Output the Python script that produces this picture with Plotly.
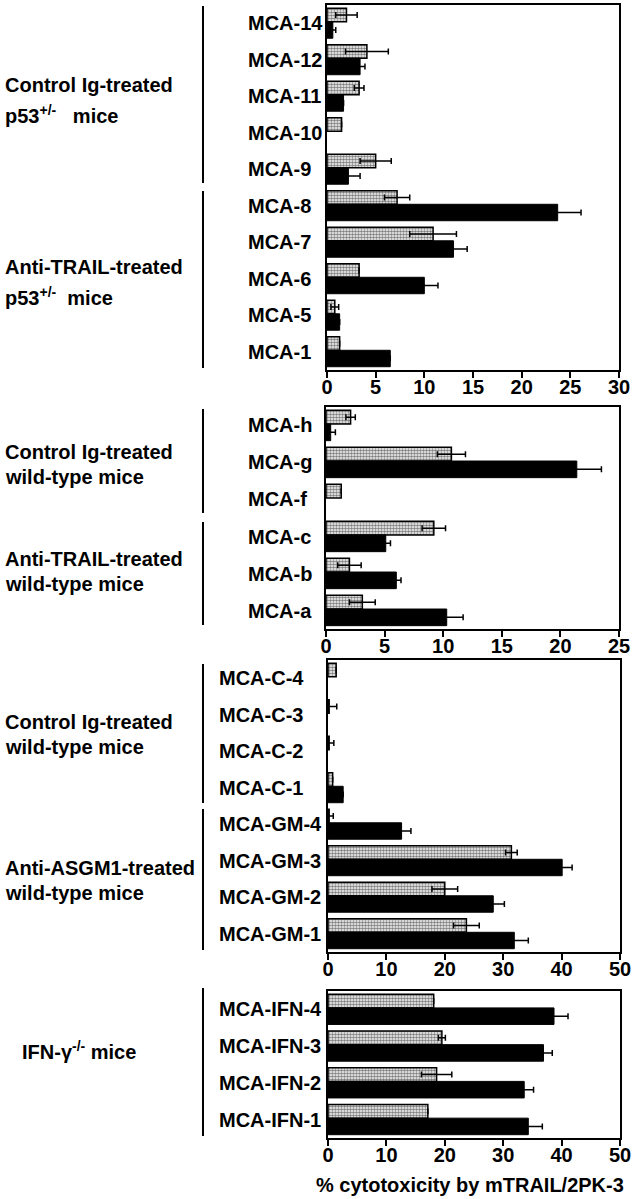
import plotly.graph_objects as go

# panel 1 - p53+/- mice
p1_cats = ["MCA-14", "MCA-12", "MCA-11", "MCA-10", "MCA-9", "MCA-8", "MCA-7", "MCA-6", "MCA-5", "MCA-1"]
p1_stip = [2.0, 4.1, 3.3, 1.5, 5.0, 7.2, 10.9, 3.3, 0.8, 1.3]
p1_stip_err = [1.1, 2.2, 0.5, None, 1.6, 1.3, 2.4, None, 0.4, None]
p1_black = [0.6, 3.4, 1.7, None, 2.2, 23.7, 13.0, 10.0, 1.3, 6.5]
p1_black_err = [0.3, 0.5, None, None, 1.2, 2.4, 1.4, 1.4, None, None]

# panel 2 - wild-type, anti-TRAIL
p2_cats = ["MCA-h", "MCA-g", "MCA-f", "MCA-c", "MCA-b", "MCA-a"]
p2_stip = [2.1, 10.7, 1.3, 9.2, 2.0, 3.1]
p2_stip_err = [0.4, 1.2, None, 1.0, 1.0, 1.1]
p2_black = [0.4, 21.4, None, 5.1, 6.0, 10.3]
p2_black_err = [0.4, 2.1, None, 0.4, 0.4, 1.4]

# panel 3 - wild-type, anti-ASGM1
p3_cats = ["MCA-C-4", "MCA-C-3", "MCA-C-2", "MCA-C-1", "MCA-GM-4", "MCA-GM-3", "MCA-GM-2", "MCA-GM-1"]
p3_stip = [1.4, 0.2, 0.2, 0.8, 0.2, 31.4, 20.0, 23.7]
p3_stip_err = [None, 1.3, 0.8, None, 0.7, 1.0, 2.2, 2.2]
p3_black = [None, None, None, 2.6, 12.6, 40.1, 28.3, 31.9]
p3_black_err = [None, None, None, None, 1.6, 1.7, 1.9, 2.4]

# panel 4 - IFN-gamma -/- mice
p4_cats = ["MCA-IFN-4", "MCA-IFN-3", "MCA-IFN-2", "MCA-IFN-1"]
p4_stip = [18.1, 19.5, 18.6, 17.1]
p4_stip_err = [None, 0.6, 2.6, None]
p4_black = [38.7, 36.9, 33.6, 34.3]
p4_black_err = [2.4, 1.5, 1.6, 2.4]

x_max = [30, 25, 50, 50]
x_dtick = [5, 5, 10, 10]

W, H = 637, 1199
FONT = "Liberation Sans, Arial, Helvetica, sans-serif"

# pixel boxes of the panels: (left, right, top, bottom)
boxes = [(327, 619, 5, 370), (326, 619, 407, 629), (328, 620, 660, 952), (328, 620, 991, 1138)]
label_x = [246, 246, 217, 217]

panels = [
    (p1_cats, p1_stip, p1_stip_err, p1_black, p1_black_err),
    (p2_cats, p2_stip, p2_stip_err, p2_black, p2_black_err),
    (p3_cats, p3_stip, p3_stip_err, p3_black, p3_black_err),
    (p4_cats, p4_stip, p4_stip_err, p4_black, p4_black_err),
]

def px(x):
    return x / W

def py(y):
    return 1 - y / H

fig = go.Figure()
annots = []
shapes = []

for i, (cats, stip, stip_err, black, black_err) in enumerate(panels):
    n = "" if i == 0 else str(i + 1)
    xa, ya = "x" + n, "y" + n
    # stippled bar sits on top, the black one (a bit thicker) just below it
    fig.add_trace(go.Bar(
        y=cats, x=stip, orientation="h", xaxis=xa, yaxis=ya,
        width=0.37, offset=-0.41,
        marker=dict(color="white",
                    pattern=dict(shape=".", fgcolor="black", bgcolor="white", size=3, solidity=0.6),
                    line=dict(color="black", width=1.5)),
        error_x=dict(type="data", array=stip_err, color="black", thickness=1.5, width=3),
        showlegend=False))
    fig.add_trace(go.Bar(
        y=cats, x=black, orientation="h", xaxis=xa, yaxis=ya,
        width=0.45, offset=-0.04,
        marker=dict(color="black", line=dict(color="black", width=1)),
        error_x=dict(type="data", array=black_err, color="black", thickness=1.5, width=3),
        showlegend=False))

    l, r, t, b = boxes[i]
    fig.update_layout(**{
        "xaxis" + n: dict(domain=[px(l), px(r)], anchor=ya, range=[0, x_max[i]], dtick=x_dtick[i],
                          showline=True, mirror=True, linecolor="black", linewidth=2,
                          ticks="outside", ticklen=6, tickwidth=2, tickcolor="black",
                          ticklabelstandoff=-8, automargin=False,
                          showgrid=False, zeroline=False,
                          tickfont=dict(family=FONT, size=20, color="black", weight="bold")),
        "yaxis" + n: dict(domain=[py(b), py(t)], anchor=xa, type="category",
                          categoryarray=cats, autorange="reversed", automargin=False,
                          showline=True, mirror=True, linecolor="black", linewidth=2,
                          showticklabels=False, ticks="", showgrid=False),
    })
    for c in cats:
        annots.append(dict(x=px(label_x[i]), y=c, xref="paper", yref=ya, text="<b>" + c + "</b>",
                           xanchor="left", yanchor="middle", showarrow=False,
                           font=dict(family=FONT, size=20, color="black")))

# group brackets (x=203 px) and group labels
brackets = [(6, 183), (191, 368), (409, 513), (522, 625), (664, 803), (809, 950), (988, 1136)]
for y0, y1 in brackets:
    shapes.append(dict(type="line", xref="paper", yref="paper", x0=px(203), x1=px(203),
                       y0=py(y0), y1=py(y1), line=dict(color="black", width=2)))

group_text = [
    ("Control Ig-treated", 3, 85), ("p53<sup>+/-</sup>   mice", 3, 115),
    ("Anti-TRAIL-treated", 3, 267), ("p53<sup>+/-</sup>  mice", 3, 296),
    ("Control Ig-treated", 3, 452), ("wild-type mice", 3, 477),
    ("Anti-TRAIL-treated", 3, 559), ("wild-type mice", 3, 584),
    ("Control Ig-treated", 3, 722), ("wild-type mice", 3, 747),
    ("Anti-ASGM1-treated", 3, 868), ("wild-type mice", 3, 893),
    ("IFN-γ<sup>-/-</sup> mice", 20, 1050),
]
for txt, x, y in group_text:
    annots.append(dict(x=px(x), y=py(y), xref="paper", yref="paper", text="<b>" + txt + "</b>",
                       xanchor="left", yanchor="middle", showarrow=False,
                       font=dict(family=FONT, size=20, color="black")))

annots.append(dict(x=px(470), y=py(1185), xref="paper", yref="paper",
                   text="<b>% cytotoxicity by mTRAIL/2PK-3</b>", xanchor="center", yanchor="middle",
                   showarrow=False, font=dict(family=FONT, size=20, color="black")))

fig.update_layout(width=W, height=H, margin=dict(l=0, r=0, t=0, b=0, autoexpand=False),
                  paper_bgcolor="white", plot_bgcolor="white",
                  barmode="overlay",
                  annotations=annots, shapes=shapes, showlegend=False)

# page body has a default 8px margin, drop it so the figure sits at the corner
fig.write_html("out.html", config={"displayModeBar": False},
               post_script="document.body.style.margin='0px';")
